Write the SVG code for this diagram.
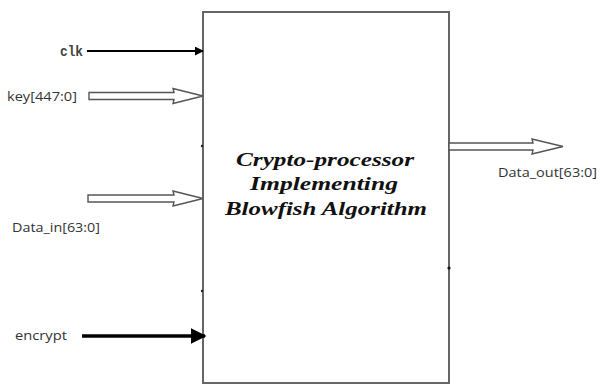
<svg xmlns="http://www.w3.org/2000/svg" width="600" height="385" viewBox="0 0 600 385">
  <style>
    .lbl { font-family: "Open Sans", "Liberation Sans", sans-serif; font-size: 13.5px; fill: #333; }
    .clk { font-family: "Liberation Mono", "Courier New", monospace; font-weight: bold; font-size: 14px; fill: #444; }
    .title { font-family: "Liberation Serif", "Times New Roman", serif; font-weight: bold; font-style: italic; font-size: 19px; fill: #111; text-anchor: middle; }
    .bus { fill: #fff; stroke: #555; stroke-width: 1.4; stroke-linejoin: miter; }
    .wire { stroke: #000; fill: none; }
  </style>
  <defs>
    <marker id="head" viewBox="0 0 10 10" refX="9" refY="5" markerWidth="4.5" markerHeight="4.5" orient="auto" markerUnits="strokeWidth">
      <path d="M0,0 L10,5 L0,10 z" fill="#000"/>
    </marker>
  </defs>

  <rect width="600" height="385" fill="#fff"/>

  <!-- processor block -->
  <g id="processor">
    <rect x="203" y="12" width="246" height="371" fill="#fff" stroke="#666" stroke-width="2"/>
    <circle cx="202" cy="146" r="1.2" fill="#222"/>
    <circle cx="202" cy="291" r="1.2" fill="#222"/>
    <circle cx="449" cy="268" r="1.6" fill="#111"/>
    <text class="title" x="325" y="166" textLength="178" lengthAdjust="spacingAndGlyphs">Crypto-processor</text>
    <text class="title" x="324" y="190" textLength="148" lengthAdjust="spacingAndGlyphs">Implementing</text>
    <text class="title" x="326" y="215" textLength="202" lengthAdjust="spacingAndGlyphs">Blowfish Algorithm</text>
  </g>

  <!-- port labels -->
  <g id="clk"><text class="clk" x="60" y="56" textLength="23" lengthAdjust="spacingAndGlyphs">clk</text></g>
  <g id="key"><text class="lbl" x="7" y="101" textLength="70" lengthAdjust="spacingAndGlyphs">key[447:0]</text></g>
  <g id="data_in"><text class="lbl" x="12" y="232" textLength="88" lengthAdjust="spacingAndGlyphs">Data_in[63:0]</text></g>
  <g id="encrypt"><text class="lbl" x="15" y="340" textLength="52" lengthAdjust="spacingAndGlyphs">encrypt</text></g>
  <g id="data_out"><text class="lbl" x="498" y="177" textLength="99" lengthAdjust="spacingAndGlyphs">Data_out[63:0]</text></g>

  <!-- connectors -->
  <g id="connectors">
    <line class="wire" x1="87" y1="51" x2="203" y2="51" stroke-width="2" marker-end="url(#head)"/>
    <line class="wire" x1="82" y1="336" x2="205" y2="336" stroke-width="3.5" marker-end="url(#head)"/>
    <path class="bus" d="M89,92.5 H174 L173,88.5 L203,96 L173,103.5 L174,99.5 H89 Z"/>
    <path class="bus" d="M88,195 H174 L173,191 L203,198.5 L173,206 L174,202 H88 Z"/>
    <path class="bus" d="M449,143 H533 L532,139 L563,146.5 L532,154 L533,150 H449 Z"/>
  </g>
</svg>
